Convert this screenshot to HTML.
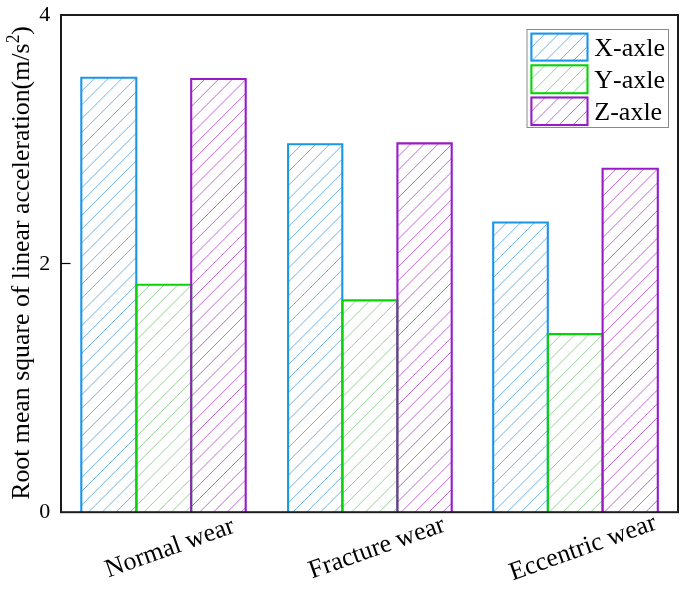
<!DOCTYPE html>
<html><head><meta charset="utf-8"><style>
html,body{margin:0;padding:0;background:#fff;width:680px;height:589px;overflow:hidden}
svg{display:block;font-kerning:none;will-change:transform;font-family:"Liberation Serif",serif}
</style></head><body><svg width="680" height="589" viewBox="0 0 680 589" font-family="Liberation Serif, serif" fill="#000"><g stroke="#70b2e2" stroke-width="1.0"><line x1="81.30" y1="91.50" x2="95.10" y2="77.70"/><line x1="81.30" y1="105.30" x2="108.90" y2="77.70"/><line x1="81.30" y1="119.10" x2="122.70" y2="77.70"/><line x1="81.30" y1="132.90" x2="136.30" y2="77.90"/><line x1="81.30" y1="146.70" x2="136.30" y2="91.70"/><line x1="81.30" y1="160.50" x2="136.30" y2="105.50"/><line x1="81.30" y1="174.30" x2="136.30" y2="119.30"/><line x1="81.30" y1="188.10" x2="136.30" y2="133.10"/><line x1="81.30" y1="201.90" x2="136.30" y2="146.90"/><line x1="81.30" y1="215.70" x2="136.30" y2="160.70"/><line x1="81.30" y1="229.50" x2="136.30" y2="174.50"/><line x1="81.30" y1="243.30" x2="136.30" y2="188.30"/><line x1="81.30" y1="257.10" x2="136.30" y2="202.10"/><line x1="81.30" y1="270.90" x2="136.30" y2="215.90"/><line x1="81.30" y1="284.70" x2="136.30" y2="229.70"/><line x1="81.30" y1="298.50" x2="136.30" y2="243.50"/><line x1="81.30" y1="312.30" x2="136.30" y2="257.30"/><line x1="81.30" y1="326.10" x2="136.30" y2="271.10"/><line x1="81.30" y1="339.90" x2="136.30" y2="284.90"/><line x1="81.30" y1="353.70" x2="136.30" y2="298.70"/><line x1="81.30" y1="367.50" x2="136.30" y2="312.50"/><line x1="81.30" y1="381.30" x2="136.30" y2="326.30"/><line x1="81.30" y1="395.10" x2="136.30" y2="340.10"/><line x1="81.30" y1="408.90" x2="136.30" y2="353.90"/><line x1="81.30" y1="422.70" x2="136.30" y2="367.70"/><line x1="81.30" y1="436.50" x2="136.30" y2="381.50"/><line x1="81.30" y1="450.30" x2="136.30" y2="395.30"/><line x1="81.30" y1="464.10" x2="136.30" y2="409.10"/><line x1="81.30" y1="477.90" x2="136.30" y2="422.90"/><line x1="81.30" y1="491.70" x2="136.30" y2="436.70"/><line x1="81.30" y1="505.50" x2="136.30" y2="450.50"/><line x1="88.40" y1="512.20" x2="136.30" y2="464.30"/><line x1="102.20" y1="512.20" x2="136.30" y2="478.10"/><line x1="116.00" y1="512.20" x2="136.30" y2="491.90"/><line x1="129.80" y1="512.20" x2="136.30" y2="505.70"/></g><g stroke="#98d098" stroke-width="1.0"><line x1="136.50" y1="298.60" x2="150.30" y2="284.80"/><line x1="136.50" y1="312.40" x2="164.10" y2="284.80"/><line x1="136.50" y1="326.20" x2="177.90" y2="284.80"/><line x1="136.50" y1="340.00" x2="191.20" y2="285.30"/><line x1="136.50" y1="353.80" x2="191.20" y2="299.10"/><line x1="136.50" y1="367.60" x2="191.20" y2="312.90"/><line x1="136.50" y1="381.40" x2="191.20" y2="326.70"/><line x1="136.50" y1="395.20" x2="191.20" y2="340.50"/><line x1="136.50" y1="409.00" x2="191.20" y2="354.30"/><line x1="136.50" y1="422.80" x2="191.20" y2="368.10"/><line x1="136.50" y1="436.60" x2="191.20" y2="381.90"/><line x1="136.50" y1="450.40" x2="191.20" y2="395.70"/><line x1="136.50" y1="464.20" x2="191.20" y2="409.50"/><line x1="136.50" y1="478.00" x2="191.20" y2="423.30"/><line x1="136.50" y1="491.80" x2="191.20" y2="437.10"/><line x1="136.50" y1="505.60" x2="191.20" y2="450.90"/><line x1="143.70" y1="512.20" x2="191.20" y2="464.70"/><line x1="157.50" y1="512.20" x2="191.20" y2="478.50"/><line x1="171.30" y1="512.20" x2="191.20" y2="492.30"/><line x1="185.10" y1="512.20" x2="191.20" y2="506.10"/></g><g stroke="#c268d8" stroke-width="1.0"><line x1="191.20" y1="92.80" x2="205.00" y2="79.00"/><line x1="191.20" y1="106.60" x2="218.80" y2="79.00"/><line x1="191.20" y1="120.40" x2="232.60" y2="79.00"/><line x1="191.20" y1="134.20" x2="245.70" y2="79.70"/><line x1="191.20" y1="148.00" x2="245.70" y2="93.50"/><line x1="191.20" y1="161.80" x2="245.70" y2="107.30"/><line x1="191.20" y1="175.60" x2="245.70" y2="121.10"/><line x1="191.20" y1="189.40" x2="245.70" y2="134.90"/><line x1="191.20" y1="203.20" x2="245.70" y2="148.70"/><line x1="191.20" y1="217.00" x2="245.70" y2="162.50"/><line x1="191.20" y1="230.80" x2="245.70" y2="176.30"/><line x1="191.20" y1="244.60" x2="245.70" y2="190.10"/><line x1="191.20" y1="258.40" x2="245.70" y2="203.90"/><line x1="191.20" y1="272.20" x2="245.70" y2="217.70"/><line x1="191.20" y1="286.00" x2="245.70" y2="231.50"/><line x1="191.20" y1="299.80" x2="245.70" y2="245.30"/><line x1="191.20" y1="313.60" x2="245.70" y2="259.10"/><line x1="191.20" y1="327.40" x2="245.70" y2="272.90"/><line x1="191.20" y1="341.20" x2="245.70" y2="286.70"/><line x1="191.20" y1="355.00" x2="245.70" y2="300.50"/><line x1="191.20" y1="368.80" x2="245.70" y2="314.30"/><line x1="191.20" y1="382.60" x2="245.70" y2="328.10"/><line x1="191.20" y1="396.40" x2="245.70" y2="341.90"/><line x1="191.20" y1="410.20" x2="245.70" y2="355.70"/><line x1="191.20" y1="424.00" x2="245.70" y2="369.50"/><line x1="191.20" y1="437.80" x2="245.70" y2="383.30"/><line x1="191.20" y1="451.60" x2="245.70" y2="397.10"/><line x1="191.20" y1="465.40" x2="245.70" y2="410.90"/><line x1="191.20" y1="479.20" x2="245.70" y2="424.70"/><line x1="191.20" y1="493.00" x2="245.70" y2="438.50"/><line x1="191.20" y1="506.80" x2="245.70" y2="452.30"/><line x1="199.60" y1="512.20" x2="245.70" y2="466.10"/><line x1="213.40" y1="512.20" x2="245.70" y2="479.90"/><line x1="227.20" y1="512.20" x2="245.70" y2="493.70"/><line x1="241.00" y1="512.20" x2="245.70" y2="507.50"/></g><g stroke="#70b2e2" stroke-width="1.0"><line x1="288.10" y1="158.10" x2="301.90" y2="144.30"/><line x1="288.10" y1="171.90" x2="315.70" y2="144.30"/><line x1="288.10" y1="185.70" x2="329.50" y2="144.30"/><line x1="288.10" y1="199.50" x2="342.30" y2="145.30"/><line x1="288.10" y1="213.30" x2="342.30" y2="159.10"/><line x1="288.10" y1="227.10" x2="342.30" y2="172.90"/><line x1="288.10" y1="240.90" x2="342.30" y2="186.70"/><line x1="288.10" y1="254.70" x2="342.30" y2="200.50"/><line x1="288.10" y1="268.50" x2="342.30" y2="214.30"/><line x1="288.10" y1="282.30" x2="342.30" y2="228.10"/><line x1="288.10" y1="296.10" x2="342.30" y2="241.90"/><line x1="288.10" y1="309.90" x2="342.30" y2="255.70"/><line x1="288.10" y1="323.70" x2="342.30" y2="269.50"/><line x1="288.10" y1="337.50" x2="342.30" y2="283.30"/><line x1="288.10" y1="351.30" x2="342.30" y2="297.10"/><line x1="288.10" y1="365.10" x2="342.30" y2="310.90"/><line x1="288.10" y1="378.90" x2="342.30" y2="324.70"/><line x1="288.10" y1="392.70" x2="342.30" y2="338.50"/><line x1="288.10" y1="406.50" x2="342.30" y2="352.30"/><line x1="288.10" y1="420.30" x2="342.30" y2="366.10"/><line x1="288.10" y1="434.10" x2="342.30" y2="379.90"/><line x1="288.10" y1="447.90" x2="342.30" y2="393.70"/><line x1="288.10" y1="461.70" x2="342.30" y2="407.50"/><line x1="288.10" y1="475.50" x2="342.30" y2="421.30"/><line x1="288.10" y1="489.30" x2="342.30" y2="435.10"/><line x1="288.10" y1="503.10" x2="342.30" y2="448.90"/><line x1="292.80" y1="512.20" x2="342.30" y2="462.70"/><line x1="306.60" y1="512.20" x2="342.30" y2="476.50"/><line x1="320.40" y1="512.20" x2="342.30" y2="490.30"/><line x1="334.20" y1="512.20" x2="342.30" y2="504.10"/></g><g stroke="#98d098" stroke-width="1.0"><line x1="342.50" y1="314.20" x2="356.30" y2="300.40"/><line x1="342.50" y1="328.00" x2="370.10" y2="300.40"/><line x1="342.50" y1="341.80" x2="383.90" y2="300.40"/><line x1="342.50" y1="355.60" x2="397.30" y2="300.80"/><line x1="342.50" y1="369.40" x2="397.30" y2="314.60"/><line x1="342.50" y1="383.20" x2="397.30" y2="328.40"/><line x1="342.50" y1="397.00" x2="397.30" y2="342.20"/><line x1="342.50" y1="410.80" x2="397.30" y2="356.00"/><line x1="342.50" y1="424.60" x2="397.30" y2="369.80"/><line x1="342.50" y1="438.40" x2="397.30" y2="383.60"/><line x1="342.50" y1="452.20" x2="397.30" y2="397.40"/><line x1="342.50" y1="466.00" x2="397.30" y2="411.20"/><line x1="342.50" y1="479.80" x2="397.30" y2="425.00"/><line x1="342.50" y1="493.60" x2="397.30" y2="438.80"/><line x1="342.50" y1="507.40" x2="397.30" y2="452.60"/><line x1="351.50" y1="512.20" x2="397.30" y2="466.40"/><line x1="365.30" y1="512.20" x2="397.30" y2="480.20"/><line x1="379.10" y1="512.20" x2="397.30" y2="494.00"/><line x1="392.90" y1="512.20" x2="397.30" y2="507.80"/></g><g stroke="#c268d8" stroke-width="1.0"><line x1="397.40" y1="157.20" x2="411.20" y2="143.40"/><line x1="397.40" y1="171.00" x2="425.00" y2="143.40"/><line x1="397.40" y1="184.80" x2="438.80" y2="143.40"/><line x1="397.40" y1="198.60" x2="451.70" y2="144.30"/><line x1="397.40" y1="212.40" x2="451.70" y2="158.10"/><line x1="397.40" y1="226.20" x2="451.70" y2="171.90"/><line x1="397.40" y1="240.00" x2="451.70" y2="185.70"/><line x1="397.40" y1="253.80" x2="451.70" y2="199.50"/><line x1="397.40" y1="267.60" x2="451.70" y2="213.30"/><line x1="397.40" y1="281.40" x2="451.70" y2="227.10"/><line x1="397.40" y1="295.20" x2="451.70" y2="240.90"/><line x1="397.40" y1="309.00" x2="451.70" y2="254.70"/><line x1="397.40" y1="322.80" x2="451.70" y2="268.50"/><line x1="397.40" y1="336.60" x2="451.70" y2="282.30"/><line x1="397.40" y1="350.40" x2="451.70" y2="296.10"/><line x1="397.40" y1="364.20" x2="451.70" y2="309.90"/><line x1="397.40" y1="378.00" x2="451.70" y2="323.70"/><line x1="397.40" y1="391.80" x2="451.70" y2="337.50"/><line x1="397.40" y1="405.60" x2="451.70" y2="351.30"/><line x1="397.40" y1="419.40" x2="451.70" y2="365.10"/><line x1="397.40" y1="433.20" x2="451.70" y2="378.90"/><line x1="397.40" y1="447.00" x2="451.70" y2="392.70"/><line x1="397.40" y1="460.80" x2="451.70" y2="406.50"/><line x1="397.40" y1="474.60" x2="451.70" y2="420.30"/><line x1="397.40" y1="488.40" x2="451.70" y2="434.10"/><line x1="397.40" y1="502.20" x2="451.70" y2="447.90"/><line x1="401.20" y1="512.20" x2="451.70" y2="461.70"/><line x1="415.00" y1="512.20" x2="451.70" y2="475.50"/><line x1="428.80" y1="512.20" x2="451.70" y2="489.30"/><line x1="442.60" y1="512.20" x2="451.70" y2="503.10"/></g><g stroke="#70b2e2" stroke-width="1.0"><line x1="493.20" y1="236.30" x2="507.00" y2="222.50"/><line x1="493.20" y1="250.10" x2="520.80" y2="222.50"/><line x1="493.20" y1="263.90" x2="534.60" y2="222.50"/><line x1="493.20" y1="277.70" x2="547.80" y2="223.10"/><line x1="493.20" y1="291.50" x2="547.80" y2="236.90"/><line x1="493.20" y1="305.30" x2="547.80" y2="250.70"/><line x1="493.20" y1="319.10" x2="547.80" y2="264.50"/><line x1="493.20" y1="332.90" x2="547.80" y2="278.30"/><line x1="493.20" y1="346.70" x2="547.80" y2="292.10"/><line x1="493.20" y1="360.50" x2="547.80" y2="305.90"/><line x1="493.20" y1="374.30" x2="547.80" y2="319.70"/><line x1="493.20" y1="388.10" x2="547.80" y2="333.50"/><line x1="493.20" y1="401.90" x2="547.80" y2="347.30"/><line x1="493.20" y1="415.70" x2="547.80" y2="361.10"/><line x1="493.20" y1="429.50" x2="547.80" y2="374.90"/><line x1="493.20" y1="443.30" x2="547.80" y2="388.70"/><line x1="493.20" y1="457.10" x2="547.80" y2="402.50"/><line x1="493.20" y1="470.90" x2="547.80" y2="416.30"/><line x1="493.20" y1="484.70" x2="547.80" y2="430.10"/><line x1="493.20" y1="498.50" x2="547.80" y2="443.90"/><line x1="493.30" y1="512.20" x2="547.80" y2="457.70"/><line x1="507.10" y1="512.20" x2="547.80" y2="471.50"/><line x1="520.90" y1="512.20" x2="547.80" y2="485.30"/><line x1="534.70" y1="512.20" x2="547.80" y2="499.10"/></g><g stroke="#98d098" stroke-width="1.0"><line x1="547.90" y1="347.90" x2="561.70" y2="334.10"/><line x1="547.90" y1="361.70" x2="575.50" y2="334.10"/><line x1="547.90" y1="375.50" x2="589.30" y2="334.10"/><line x1="547.90" y1="389.30" x2="602.50" y2="334.70"/><line x1="547.90" y1="403.10" x2="602.50" y2="348.50"/><line x1="547.90" y1="416.90" x2="602.50" y2="362.30"/><line x1="547.90" y1="430.70" x2="602.50" y2="376.10"/><line x1="547.90" y1="444.50" x2="602.50" y2="389.90"/><line x1="547.90" y1="458.30" x2="602.50" y2="403.70"/><line x1="547.90" y1="472.10" x2="602.50" y2="417.50"/><line x1="547.90" y1="485.90" x2="602.50" y2="431.30"/><line x1="547.90" y1="499.70" x2="602.50" y2="445.10"/><line x1="549.20" y1="512.20" x2="602.50" y2="458.90"/><line x1="563.00" y1="512.20" x2="602.50" y2="472.70"/><line x1="576.80" y1="512.20" x2="602.50" y2="486.50"/><line x1="590.60" y1="512.20" x2="602.50" y2="500.30"/></g><g stroke="#c268d8" stroke-width="1.0"><line x1="602.60" y1="182.60" x2="616.40" y2="168.80"/><line x1="602.60" y1="196.40" x2="630.20" y2="168.80"/><line x1="602.60" y1="210.20" x2="644.00" y2="168.80"/><line x1="602.60" y1="224.00" x2="657.80" y2="168.80"/><line x1="602.60" y1="237.80" x2="657.80" y2="182.60"/><line x1="602.60" y1="251.60" x2="657.80" y2="196.40"/><line x1="602.60" y1="265.40" x2="657.80" y2="210.20"/><line x1="602.60" y1="279.20" x2="657.80" y2="224.00"/><line x1="602.60" y1="293.00" x2="657.80" y2="237.80"/><line x1="602.60" y1="306.80" x2="657.80" y2="251.60"/><line x1="602.60" y1="320.60" x2="657.80" y2="265.40"/><line x1="602.60" y1="334.40" x2="657.80" y2="279.20"/><line x1="602.60" y1="348.20" x2="657.80" y2="293.00"/><line x1="602.60" y1="362.00" x2="657.80" y2="306.80"/><line x1="602.60" y1="375.80" x2="657.80" y2="320.60"/><line x1="602.60" y1="389.60" x2="657.80" y2="334.40"/><line x1="602.60" y1="403.40" x2="657.80" y2="348.20"/><line x1="602.60" y1="417.20" x2="657.80" y2="362.00"/><line x1="602.60" y1="431.00" x2="657.80" y2="375.80"/><line x1="602.60" y1="444.80" x2="657.80" y2="389.60"/><line x1="602.60" y1="458.60" x2="657.80" y2="403.40"/><line x1="602.60" y1="472.40" x2="657.80" y2="417.20"/><line x1="602.60" y1="486.20" x2="657.80" y2="431.00"/><line x1="602.60" y1="500.00" x2="657.80" y2="444.80"/><line x1="604.20" y1="512.20" x2="657.80" y2="458.60"/><line x1="618.00" y1="512.20" x2="657.80" y2="472.40"/><line x1="631.80" y1="512.20" x2="657.80" y2="486.20"/><line x1="645.60" y1="512.20" x2="657.80" y2="500.00"/></g><path d="M81.3,512.2 V77.7 H136.3 V512.2" fill="none" stroke="#1896ea" stroke-width="2.1"/><path d="M136.5,512.2 V284.8 H191.2 V512.2" fill="none" stroke="#06d406" stroke-width="2.1"/><path d="M191.2,512.2 V79.0 H245.7 V512.2" fill="none" stroke="#9a1ac8" stroke-width="2.1"/><path d="M288.1,512.2 V144.3 H342.3 V512.2" fill="none" stroke="#1896ea" stroke-width="2.1"/><path d="M342.5,512.2 V300.4 H397.3 V512.2" fill="none" stroke="#06d406" stroke-width="2.1"/><path d="M397.4,512.2 V143.4 H451.7 V512.2" fill="none" stroke="#9a1ac8" stroke-width="2.1"/><path d="M493.2,512.2 V222.5 H547.8 V512.2" fill="none" stroke="#1896ea" stroke-width="2.1"/><path d="M547.9,512.2 V334.1 H602.5 V512.2" fill="none" stroke="#06d406" stroke-width="2.1"/><path d="M602.6,512.2 V168.8 H657.8 V512.2" fill="none" stroke="#9a1ac8" stroke-width="2.1"/><rect x="61" y="15" width="617" height="497.2" fill="none" stroke="#1c1c1c" stroke-width="2"/><path d="M61,263.5 H70.5" stroke="#000" stroke-width="1.2"/><text x="50.3" y="21.1" text-anchor="end" font-size="22">4</text><text x="50.3" y="269.6" text-anchor="end" font-size="22">2</text><text x="50.3" y="518.1" text-anchor="end" font-size="22">0</text><text transform="translate(28.5,499.8) rotate(-90)" font-size="25.8">Root mean square of linear acceleration(m/s</text><text transform="translate(18.8,43.2) rotate(-90) scale(1,1.13)" font-size="17.5">2</text><text transform="translate(28.5,34.7) rotate(-90)" font-size="25.8">)</text><text transform="translate(172.2,554.7) rotate(-19.6)" text-anchor="middle" font-size="25.8">Normal wear</text><text transform="translate(379.20000000000005,554.7) rotate(-19.6)" text-anchor="middle" font-size="25.8">Fracture wear</text><text transform="translate(585.2,554.7) rotate(-19.6)" text-anchor="middle" font-size="25.8">Eccentric wear</text><rect x="527" y="29.5" width="141.5" height="98" fill="#fff" stroke="#8a8a8a" stroke-width="1"/><g stroke="#70b2e2" stroke-width="1.0"><line x1="531.40" y1="47.40" x2="545.20" y2="33.60"/><line x1="532.00" y1="60.60" x2="559.00" y2="33.60"/><line x1="545.80" y1="60.60" x2="572.80" y2="33.60"/><line x1="559.60" y1="60.60" x2="586.60" y2="33.60"/><line x1="573.40" y1="60.60" x2="587.50" y2="46.50"/><line x1="587.20" y1="60.60" x2="587.50" y2="60.30"/></g><rect x="531.4" y="33.6" width="56.1" height="27.0" fill="none" stroke="#1896ea" stroke-width="2.1"/><text x="594.3" y="56.1" font-size="26">X-axle</text><g stroke="#98d098" stroke-width="1.0"><line x1="531.40" y1="79.10" x2="545.20" y2="65.30"/><line x1="531.40" y1="92.90" x2="559.00" y2="65.30"/><line x1="544.90" y1="93.20" x2="572.80" y2="65.30"/><line x1="558.70" y1="93.20" x2="586.60" y2="65.30"/><line x1="572.50" y1="93.20" x2="587.50" y2="78.20"/><line x1="586.30" y1="93.20" x2="587.50" y2="92.00"/></g><rect x="531.4" y="65.3" width="56.1" height="27.900000000000006" fill="none" stroke="#06d406" stroke-width="2.1"/><text x="594.3" y="88.25" font-size="26">Y-axle</text><g stroke="#c268d8" stroke-width="1.0"><line x1="531.40" y1="111.30" x2="545.20" y2="97.50"/><line x1="531.50" y1="125.00" x2="559.00" y2="97.50"/><line x1="545.30" y1="125.00" x2="572.80" y2="97.50"/><line x1="559.10" y1="125.00" x2="586.60" y2="97.50"/><line x1="572.90" y1="125.00" x2="587.50" y2="110.40"/><line x1="586.70" y1="125.00" x2="587.50" y2="124.20"/></g><rect x="531.4" y="97.5" width="56.1" height="27.5" fill="none" stroke="#9a1ac8" stroke-width="2.1"/><text x="594.3" y="120.25" font-size="26">Z-axle</text></svg></body></html>
